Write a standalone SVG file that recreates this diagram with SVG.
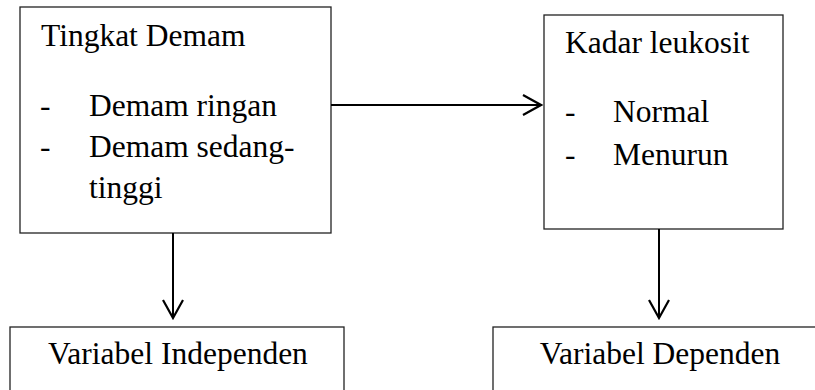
<svg xmlns="http://www.w3.org/2000/svg" width="815" height="390" viewBox="0 0 815 390">
<style>
.box{fill:#fff;stroke:#222;stroke-width:1.3}
.t{font-family:'Liberation Serif','DejaVu Serif',serif;font-size:31.5px;fill:#000}
.c{stroke:#000;stroke-width:2;fill:none}
</style>
<defs>
<marker id="ah" viewBox="0 0 22 22" refX="20" refY="11" markerWidth="22" markerHeight="22" markerUnits="userSpaceOnUse" orient="auto">
<path d="M2,1 L20,11 L2,21" fill="none" stroke="#000" stroke-width="2.2"/>
</marker>
</defs>
<rect width="815" height="390" fill="#fff"/>
<g id="tingkat-demam">
<rect class="box" x="20" y="7" width="311" height="226"/>
<text class="t" font-family="Liberation Serif, serif" x="41" y="46">Tingkat Demam</text>
<text class="t" font-family="Liberation Serif, serif" x="40" y="116">-</text>
<text class="t" font-family="Liberation Serif, serif" x="89" y="116">Demam ringan</text>
<text class="t" font-family="Liberation Serif, serif" x="40" y="157">-</text>
<text class="t" font-family="Liberation Serif, serif" x="89" y="157">Demam sedang-</text>
<text class="t" font-family="Liberation Serif, serif" x="89" y="198">tinggi</text>
</g>
<g id="kadar-leukosit">
<rect class="box" x="544" y="15" width="239" height="214"/>
<text class="t" font-family="Liberation Serif, serif" x="565" y="53">Kadar leukosit</text>
<text class="t" font-family="Liberation Serif, serif" x="565" y="122">-</text>
<text class="t" font-family="Liberation Serif, serif" x="613" y="122">Normal</text>
<text class="t" font-family="Liberation Serif, serif" x="565" y="165">-</text>
<text class="t" font-family="Liberation Serif, serif" x="613" y="165">Menurun</text>
</g>
<g id="variabel-independen">
<rect class="box" x="10" y="327" width="334" height="80"/>
<text class="t" font-family="Liberation Serif, serif" x="178" y="364" text-anchor="middle">Variabel Independen</text>
</g>
<g id="variabel-dependen">
<rect class="box" x="493" y="327" width="340" height="80"/>
<text class="t" font-family="Liberation Serif, serif" x="660" y="364" text-anchor="middle">Variabel Dependen</text>
</g>
<g id="connectors">
<line class="c" x1="331" y1="105" x2="541" y2="105" marker-end="url(#ah)"/>
<line class="c" x1="173" y1="233" x2="173" y2="318" marker-end="url(#ah)"/>
<line class="c" x1="659" y1="229" x2="659" y2="318" marker-end="url(#ah)"/>
</g>
</svg>
